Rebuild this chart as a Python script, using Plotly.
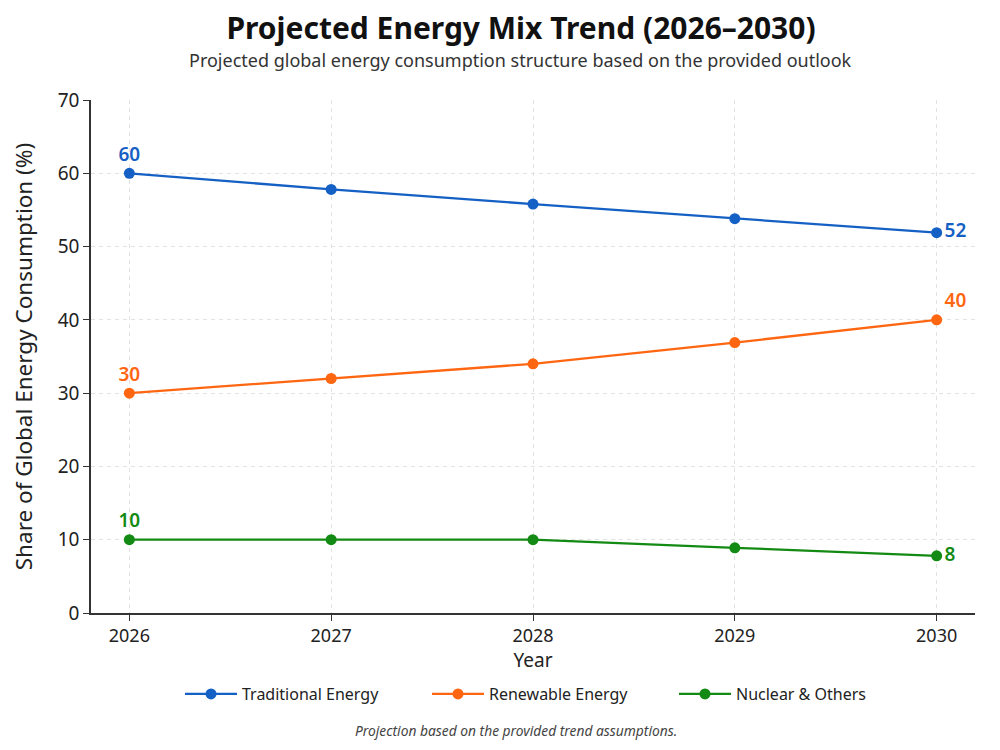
import plotly.graph_objects as go

years = [2026, 2027, 2028, 2029, 2030]
traditional = [60, 57.8, 55.8, 53.8, 51.9]
renewable = [30, 32, 34, 36.9, 40]
nuclear = [10, 10, 10, 8.9, 7.8]

series_names = ["Traditional Energy", "Renewable Energy", "Nuclear & Others"]
colors = ["#1560c4", "#ff6612", "#138a13"]
last_pos = ["middle right", "top right", "middle right"]

title = "<b>Projected Energy Mix Trend (2026\u20132030)</b>"
subtitle = "Projected global energy consumption structure based on the provided outlook"
footnote = "Projection based on the provided trend assumptions."

FONT = "Noto Sans"
OFF = 8  # page body margin
W, H = 1000 - OFF, 750 - OFF
PLOT_L, PLOT_R, PLOT_T, PLOT_B = 91, 975, 100, 613  # target screen pixels
M_L, M_R = PLOT_L - OFF, (1000 - OFF) - (PLOT_R - OFF)
M_T, M_B = PLOT_T - OFF, H - (PLOT_B - OFF)
PLOT_H = H - M_T - M_B


def paper_y(px):
    """Convert a screen pixel row to paper y coordinate."""
    return (H - M_B - (px - OFF)) / PLOT_H


def paper_x(px):
    return ((px - OFF) - M_L) / (W - M_L - M_R)


fig = go.Figure()
for name, vals, col, lp in zip(series_names, [traditional, renewable, nuclear], colors, last_pos):
    texts = [""] * len(vals)
    texts[0] = f"{round(vals[0])}"
    texts[-1] = f"{round(vals[-1])}"
    pos = ["top center"] + ["middle right"] * (len(vals) - 2) + [lp]
    fig.add_trace(go.Scatter(
        x=years, y=vals, name=name,
        mode="lines+markers+text",
        line=dict(color=col, width=2.3),
        marker=dict(color=col, size=11),
        text=texts, textposition=pos,
        textfont=dict(color=col, size=19, family=FONT, weight=600),
        cliponaxis=False,
    ))

fig.update_layout(
    width=W, height=H,
    paper_bgcolor="white", plot_bgcolor="white",
    margin=dict(l=M_L, r=M_R, t=M_T, b=M_B, autoexpand=False),
    font=dict(family=FONT, color="#222"),
    title=dict(text=title, x=paper_x(521), xref="paper", xanchor="center",
               y=1 - (28 - OFF) / H, yanchor="middle",
               font=dict(size=30, color="#111", family=FONT)),
    showlegend=True,
    legend=dict(orientation="h", x=paper_x(180), xanchor="left", y=paper_y(694), yanchor="middle",
                font=dict(size=16, color="#222"), itemwidth=52,
                entrywidthmode="pixels", entrywidth=180),
    annotations=[
        dict(text=subtitle, x=paper_x(520), y=paper_y(60), xref="paper", yref="paper",
             showarrow=False, yanchor="middle",
             font=dict(size=18, color="#333")),
        dict(text=f"<i>{footnote}</i>", x=paper_x(516), y=paper_y(731), xref="paper", yref="paper",
             showarrow=False, yanchor="middle",
             font=dict(size=13.8, color="#444")),
    ],
)

fig.update_xaxes(
    range=[2025.81, 2030.19], tickvals=years, ticktext=[str(y) for y in years],
    showline=True, linecolor="#333", linewidth=1.5,
    ticks="outside", ticklen=6, tickcolor="#333",
    showgrid=True, gridcolor="#e2e2e2", griddash="4px,4px", gridwidth=1,
    tickfont=dict(size=18, color="#222"),
    title=dict(text="Year", font=dict(size=19, color="#222"), standoff=0),
    zeroline=False, automargin=False,
)
fig.update_yaxes(
    range=[0, 70], tickvals=[0, 10, 20, 30, 40, 50, 60, 70],
    showline=True, linecolor="#333", linewidth=1.5,
    ticks="outside", ticklen=6, tickcolor="#333",
    showgrid=True, gridcolor="#e2e2e2", griddash="4px,4px", gridwidth=1,
    tickfont=dict(size=19, color="#222"),
    title=dict(text="Share of Global Energy Consumption (%)", font=dict(size=22.5, color="#222"), standoff=22),
    zeroline=False, automargin=False,
)

fig.write_html("out.html")
